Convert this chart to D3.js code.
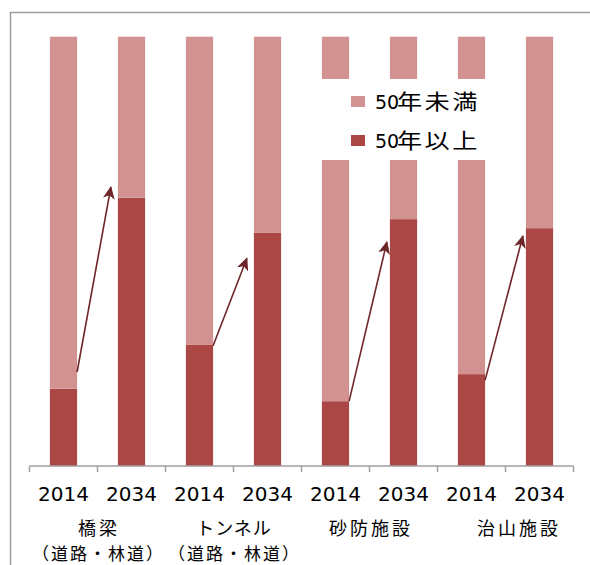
<!DOCTYPE html>
<html><head><meta charset="utf-8">
<script src="https://cdn.jsdelivr.net/npm/d3@7"></script>
<style>body{margin:0;background:#fff}svg{display:block}</style>
</head><body><svg id="c" width="590" height="565"></svg>
<script>
const years = ["2014","2034","2014","2034","2014","2034","2014","2034"];
const groups = [["橋梁","（道路・林道）"],["トンネル","（道路・林道）"],["砂防施設"],["治山施設"]];
const over50 = [18, 62.5, 28.3, 54.3, 15.1, 57.5, 21.4, 55.4];
const under50 = over50.map(v => 100 - v);
const seriesDigits = ["50","50"];
const seriesWords = ["年未満","年以上"];
const colors = ["#d39292","#ab4745"];
// arrows: from 2014 bar (index) to 2034 bar, start/end values in %
const arrowFrom = [0, 2, 4, 6];
const arrowStart = [21.9, 28.0, 15.1, 20.0];
const arrowEnd = [65.0, 48.4, 52.2, 53.6];

const svg = d3.select("#c");
const x = d3.scaleBand().domain(d3.range(8)).range([29.5, 573.5]).paddingInner(0.6).paddingOuter(0.3);
const y = d3.scaleLinear().domain([0,100]).range([466, 36.7]);

// outer frame
svg.append("path").attr("d","M10.5,565 L10.5,12.5 L590,12.5").attr("fill","none").attr("stroke","#9e9e9e").attr("stroke-width",1.5);

const stack = d3.range(8).map(i => ({i, over: over50[i], under: under50[i]}));
svg.selectAll("rect.o").data(stack).join("rect").attr("class","o")
  .attr("x", d => x(d.i)).attr("width", x.bandwidth())
  .attr("y", d => y(d.over)).attr("height", d => y(0) - y(d.over))
  .attr("fill", colors[1]);
svg.selectAll("rect.u").data(stack).join("rect").attr("class","u")
  .attr("x", d => x(d.i)).attr("width", x.bandwidth())
  .attr("y", d => y(100)).attr("height", d => y(d.over) - y(100))
  .attr("fill", colors[0]);

// axis
const axisScale = d3.scaleLinear().domain([0,8]).range([29.5,573.5]);
const ax = svg.append("g").attr("transform","translate(0,466)");
ax.append("line").attr("x1",29.5).attr("x2",573.5).attr("stroke","#a0a0a0").attr("stroke-width",1.5);
ax.selectAll("line.t").data(d3.range(9)).join("line").attr("class","t")
  .attr("x1", d => axisScale(d)).attr("x2", d => axisScale(d)).attr("y1",0).attr("y2",6)
  .attr("stroke","#a0a0a0").attr("stroke-width",1.5);
ax.selectAll("text").data(years).join("text")
  .attr("x",(d,i)=> x(i) + x.bandwidth()/2).attr("y",35)
  .attr("text-anchor","middle").attr("font-family","'DejaVu Sans', sans-serif").attr("font-size",20).attr("fill","#000")
  .text(d=>d);

// group labels
const gl = svg.append("g");
groups.forEach((lines, g) => {
  const cx = axisScale(g*2+1) + (g===3 ? 12 : 0);
  lines.forEach((t, k) => {
    const ls = k===1 ? 2 : (g===1 ? 1 : 3);
    gl.append("text").attr("x", cx + ls/2).attr("y", 535 + k*24.5)
      .attr("text-anchor","middle").attr("font-family","'Noto Sans CJK JP', sans-serif")
      .attr("font-size", k===1 ? 17 : 18).attr("letter-spacing", ls).attr("fill","#000").text(t);
  });
});

// legend
const lg = svg.append("g");
lg.append("rect").attr("x",300).attr("y",79).attr("width",200).attr("height",81).attr("fill","#fff");
seriesWords.forEach((n, k) => {
  const yy = 109 + k*39;
  lg.append("rect").attr("x",351).attr("y",96 + k*39).attr("width",14).attr("height",11).attr("fill",colors[k]);
  lg.append("text").attr("x",375).attr("y",yy).attr("fill","#000")
    .attr("font-family","'DejaVu Sans', sans-serif").attr("font-size",19).text(seriesDigits[k]);
  lg.append("text").attr("transform",`translate(397,${yy}) scale(1.2,1)`).attr("fill","#000")
    .attr("font-family","'Noto Sans CJK JP', sans-serif").attr("font-size",21).attr("letter-spacing",2).text(n);
});

// arrows
svg.append("defs").append("marker").attr("id","ah").attr("markerUnits","userSpaceOnUse")
  .attr("markerWidth",14).attr("markerHeight",12).attr("refX",12).attr("refY",6).attr("orient","auto")
  .append("path").attr("d","M0,0 L13,6 L0,12 L3.5,6 Z").attr("fill","#6e2628");
arrowFrom.forEach((b, k) => {
  svg.append("line")
    .attr("x1", x(b) + x.bandwidth()).attr("y1", y(arrowStart[k]))
    .attr("x2", x(b+1) - (k < 2 ? 7 : 3)).attr("y2", y(arrowEnd[k]))
    .attr("stroke","#6e2628").attr("stroke-width",1.6).attr("marker-end","url(#ah)");
});
</script></body></html>
